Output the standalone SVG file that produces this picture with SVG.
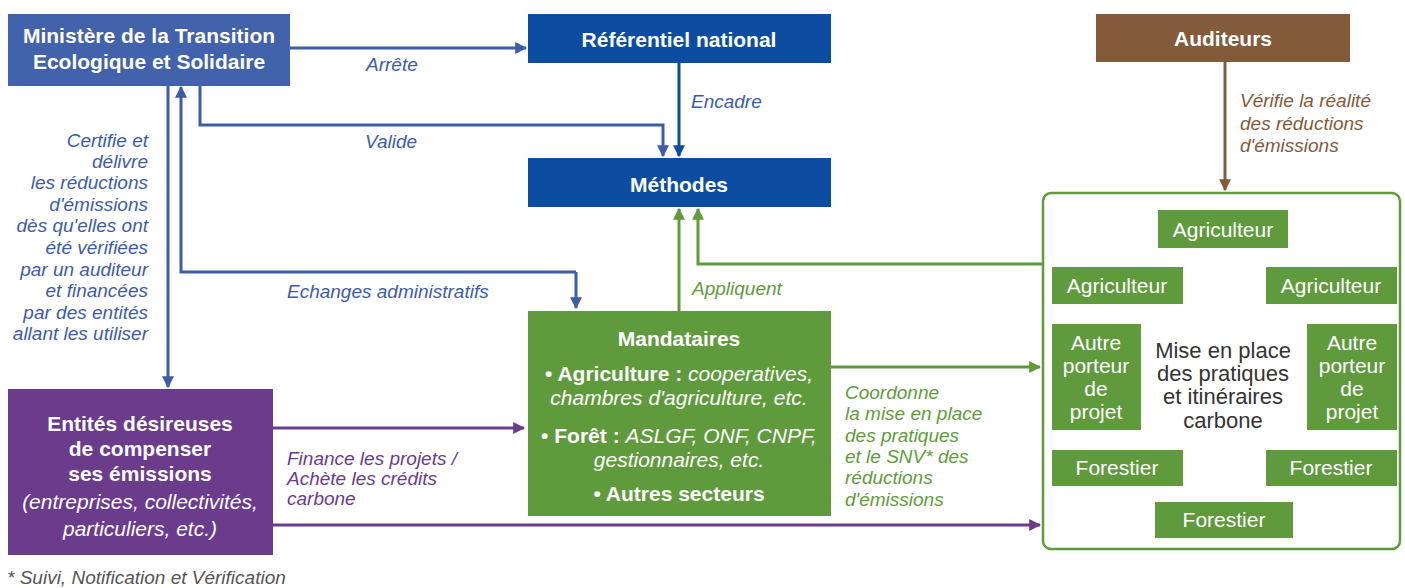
<svg xmlns="http://www.w3.org/2000/svg" width="1405" height="588" viewBox="0 0 1405 588">
<defs>
<style>
text{font-family:"Liberation Sans",Arial,sans-serif}
.bt{fill:#fff;font-weight:bold;font-size:21px;text-anchor:middle}
.wt{fill:#fff;font-size:21px;text-anchor:middle}
.sb{fill:#fff;font-size:21px;text-anchor:middle}
.lbl{font-style:italic;font-size:19px}
.blue{fill:#3d5ca8}
.green{fill:#5f9b3c}
.purple{fill:#6b3b8c}
.brown{fill:#835b3a}
.cb{fill:none;stroke:#3d5ca8;stroke-width:3}
.cg{fill:none;stroke:#5f9b3c;stroke-width:3}
.cp{fill:none;stroke:#6b3b8c;stroke-width:3}
.cn{fill:none;stroke:#835b3a;stroke-width:3}
.gb{fill:#5f9b3c}
</style>
<marker id="ab" viewBox="0 0 10 10" refX="9" refY="5" markerWidth="4" markerHeight="4" orient="auto"><path d="M0,0L10,5L0,10z" fill="#3d5ca8"/></marker>
<marker id="ad" viewBox="0 0 10 10" refX="9" refY="5" markerWidth="4" markerHeight="4" orient="auto"><path d="M0,0L10,5L0,10z" fill="#0c4da2"/></marker>
<marker id="ag" viewBox="0 0 10 10" refX="9" refY="5" markerWidth="4" markerHeight="4" orient="auto"><path d="M0,0L10,5L0,10z" fill="#5f9b3c"/></marker>
<marker id="ap" viewBox="0 0 10 10" refX="9" refY="5" markerWidth="4" markerHeight="4" orient="auto"><path d="M0,0L10,5L0,10z" fill="#6b3b8c"/></marker>
<marker id="an" viewBox="0 0 10 10" refX="9" refY="5" markerWidth="4" markerHeight="4" orient="auto"><path d="M0,0L10,5L0,10z" fill="#835b3a"/></marker>
</defs>
<rect width="1405" height="588" fill="#fff"/>
<g id="connectors">
<path class="cb" d="M290,48H526" marker-end="url(#ab)"/>
<path class="cb" d="M200,86V125H663V156" marker-end="url(#ab)"/>
<path d="M679,63V156" fill="none" stroke="#0c4da2" stroke-width="3" marker-end="url(#ad)"/>
<path class="cb" d="M168,86V387" marker-end="url(#ab)"/>
<path class="cb" d="M576,272H181V87" marker-end="url(#ab)"/>
<path class="cb" d="M576,272V308" marker-end="url(#ab)"/>
<path class="cg" d="M679,311V209" marker-end="url(#ag)"/>
<path class="cg" d="M1043,264H698V209" marker-end="url(#ag)"/>
<path class="cg" d="M831,367H1040" marker-end="url(#ag)"/>
<path class="cp" d="M273,428H524" marker-end="url(#ap)"/>
<path class="cp" d="M273,525H1040" marker-end="url(#ap)"/>
<path class="cn" d="M1225,62V190" marker-end="url(#an)"/>
<g class="lbl">
<text class="blue" x="366" y="71">Arrête</text>
<text class="blue" x="365" y="148">Valide</text>
<text class="blue" x="691" y="108">Encadre</text>
<text class="blue" x="287" y="298">Echanges administratifs</text>
<text class="blue" text-anchor="end"><tspan x="148" y="147">Certifie et</tspan><tspan x="148" y="168">délivre</tspan><tspan x="148" y="189">les réductions</tspan><tspan x="148" y="211">d'émissions</tspan><tspan x="148" y="232">dès qu'elles ont</tspan><tspan x="148" y="254">été vérifiées</tspan><tspan x="148" y="276">par un auditeur</tspan><tspan x="148" y="297">et financées</tspan><tspan x="148" y="319">par des entités</tspan><tspan x="148" y="340">allant les utiliser</tspan></text>
<text class="green" x="692" y="295">Appliquent</text>
<text class="green"><tspan x="845" y="399">Coordonne</tspan><tspan x="845" y="420">la mise en place</tspan><tspan x="845" y="442">des pratiques</tspan><tspan x="845" y="463">et le SNV* des</tspan><tspan x="845" y="484">réductions</tspan><tspan x="845" y="506">d'émissions</tspan></text>
<text class="purple"><tspan x="287" y="465">Finance les projets /</tspan><tspan x="287" y="485">Achète les crédits</tspan><tspan x="287" y="505">carbone</tspan></text>
<text class="brown"><tspan x="1240" y="107">Vérifie la réalité</tspan><tspan x="1240" y="130">des réductions</tspan><tspan x="1240" y="152">d'émissions</tspan></text>
</g>
</g>
<g id="ministere"><rect x="8" y="14" width="282" height="72" fill="#4262ab"/><text class="bt" x="149" y="43">Ministère de la Transition</text><text class="bt" x="149" y="69">Ecologique et Solidaire</text></g>
<g id="referentiel"><rect x="528" y="14" width="303" height="49" fill="#0c4da2"/><text class="bt" x="679" y="47" font-size="25">Référentiel national</text></g>
<g id="methodes"><rect x="528" y="158" width="303" height="49" fill="#0c4da2"/><text class="bt" x="679" y="192" font-size="25">Méthodes</text></g>
<g id="auditeurs"><rect x="1096" y="14" width="254" height="48" fill="#835b3a"/><text class="bt" x="1223" y="46" font-size="25">Auditeurs</text></g>
<g id="entites"><rect x="8" y="389" width="265" height="166" fill="#6b3b8c"/>
<text class="bt" x="140" y="431" font-size="22">Entités désireuses</text><text class="bt" x="140" y="456" font-size="22">de compenser</text><text class="bt" x="140" y="481" font-size="22">ses émissions</text>
<text class="wt" x="140" y="509" font-size="22" font-style="italic">(entreprises, collectivités,</text><text class="wt" x="140" y="536" font-size="22" font-style="italic">particuliers, etc.)</text></g>
<g id="mandataires"><rect x="528" y="311" width="303" height="205" fill="#5f9b3c"/>
<text class="bt" x="679" y="346" font-size="24">Mandataires</text>
<text class="wt" x="679" y="381"><tspan font-weight="bold">• Agriculture : </tspan><tspan font-style="italic">cooperatives,</tspan></text>
<text class="wt" x="679" y="405" font-style="italic">chambres d'agriculture, etc.</text>
<text class="wt" x="679" y="443"><tspan font-weight="bold">• Forêt : </tspan><tspan font-style="italic">ASLGF, ONF, CNPF,</tspan></text>
<text class="wt" x="679" y="467" font-style="italic">gestionnaires, etc.</text>
<text class="wt" x="679" y="501" font-weight="bold">• Autres secteurs</text></g>
<g id="porteurs">
<rect x="1043" y="193" width="357" height="356" rx="8" fill="#fff" stroke="#5f9b3c" stroke-width="2.5"/>
<text font-size="22" fill="#333" text-anchor="middle"><tspan x="1223" y="358">Mise en place</tspan><tspan x="1223" y="381">des pratiques</tspan><tspan x="1223" y="404">et itinéraires</tspan><tspan x="1223" y="428">carbone</tspan></text>
</g>
<g id="agri1"><rect class="gb" x="1158" y="210" width="130" height="38"/><text class="sb" x="1223" y="237">Agriculteur</text></g>
<g id="agri2"><rect class="gb" x="1052" y="267" width="131" height="37"/><text class="sb" x="1117" y="293">Agriculteur</text></g>
<g id="agri3"><rect class="gb" x="1266" y="267" width="131" height="37"/><text class="sb" x="1331" y="293">Agriculteur</text></g>
<g id="autre1"><rect class="gb" x="1052" y="324" width="89" height="106"/><text class="sb"><tspan x="1096" y="350">Autre</tspan><tspan x="1096" y="373">porteur</tspan><tspan x="1096" y="396">de</tspan><tspan x="1096" y="419">projet</tspan></text></g>
<g id="autre2"><rect class="gb" x="1307" y="324" width="90" height="106"/><text class="sb"><tspan x="1352" y="350">Autre</tspan><tspan x="1352" y="373">porteur</tspan><tspan x="1352" y="396">de</tspan><tspan x="1352" y="419">projet</tspan></text></g>
<g id="forest1"><rect class="gb" x="1052" y="450" width="131" height="36"/><text class="sb" x="1117" y="475">Forestier</text></g>
<g id="forest2"><rect class="gb" x="1266" y="450" width="131" height="36"/><text class="sb" x="1331" y="475">Forestier</text></g>
<g id="forest3"><rect class="gb" x="1155" y="502" width="138" height="36"/><text class="sb" x="1224" y="527">Forestier</text></g>
<text x="7" y="584" font-size="19" font-style="italic" fill="#555">* Suivi, Notification et Vérification</text>
</svg>
